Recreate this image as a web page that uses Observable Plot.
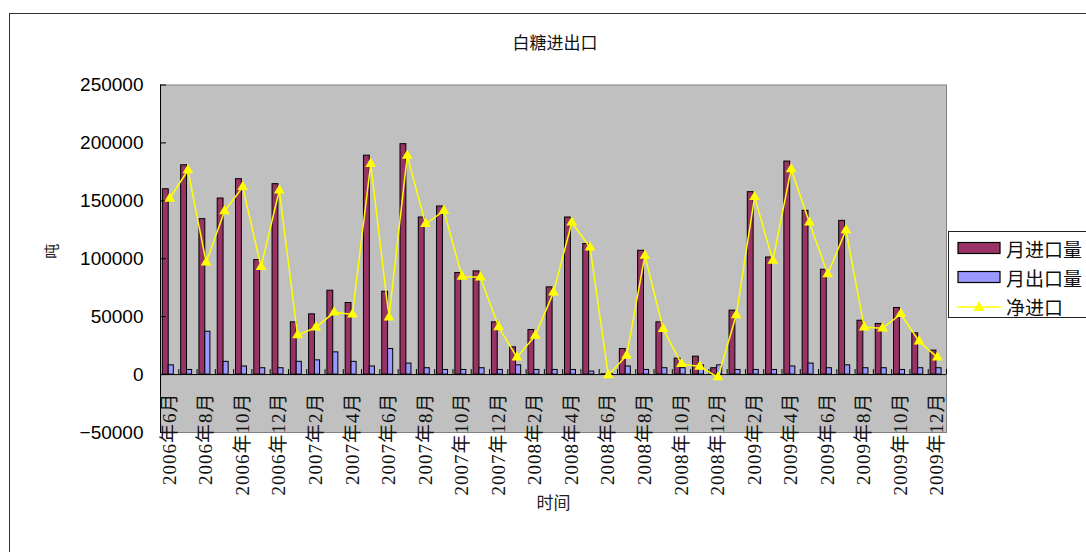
<!DOCTYPE html>
<html>
<head>
<meta charset="utf-8">
<script src="https://cdn.jsdelivr.net/npm/d3@7"></script>
<script src="https://cdn.jsdelivr.net/npm/@observablehq/plot@0.6"></script>
<style>
  body { margin: 0; background: #fff; }
  #wrap { position: relative; width: 1086px; height: 552px; overflow: hidden; font-family: "Noto Sans CJK SC", sans-serif; color: #111; }
  #border { position: absolute; left: 9px; top: 13px; width: 1300px; height: 800px; border: 1px solid #333; box-sizing: border-box; }
  #title { position: absolute; top: 30px; left: 0; width: 1110px; text-align: center; font-size: 17px; line-height: 24px; }
  #chart { position: absolute; left: 0; top: 60px; }
  #legend { position: absolute; left: 948px; top: 231px; width: 200px; height: 87px; border: 1px solid #222; background: #fff; box-sizing: border-box; }
  .lrow { position: absolute; left: 8px; height: 28px; display: flex; align-items: center; white-space: nowrap; font-size: 19px; }
  .lrow svg { margin-right: 5px; }
</style>
</head>
<body>
<div id="wrap">
  <div id="border"></div>
  <div id="title">白糖进出口</div>
  <div id="chart"></div>
  <div id="legend"></div>
</div>
<script>
const months = [
  "2006年6月","2006年7月","2006年8月","2006年9月","2006年10月","2006年11月","2006年12月",
  "2007年1月","2007年2月","2007年3月","2007年4月","2007年5月","2007年6月","2007年7月","2007年8月","2007年9月","2007年10月","2007年11月","2007年12月",
  "2008年1月","2008年2月","2008年3月","2008年4月","2008年5月","2008年6月","2008年7月","2008年8月","2008年9月","2008年10月","2008年11月","2008年12月",
  "2009年1月","2009年2月","2009年3月","2009年4月","2009年5月","2009年6月","2009年7月","2009年8月","2009年9月","2009年10月","2009年11月","2009年12月"
];
const imports = [160000, 180700, 134200, 152000, 168700, 98900, 164400, 45100, 52000, 72400, 61800, 189000, 71500, 198900, 135600, 145100, 87700, 89100, 45100, 23500, 38500, 75300, 135600, 112700, 300, 22100, 106900, 45100, 13800, 15500, 5500, 55200, 157500, 101100, 183900, 141400, 90500, 132700, 46500, 43700, 57500, 35600, 20700];
const exportsArr = [8000, 4000, 37000, 11000, 7000, 5500, 5500, 11000, 12300, 19200, 11000, 7000, 22100, 9500, 5500, 4000, 4000, 5500, 4000, 8000, 4000, 4000, 4000, 2600, 800, 7000, 4000, 5500, 5500, 8000, 8000, 4000, 4000, 4000, 7000, 9500, 5500, 8000, 5500, 5500, 4000, 5500, 5500];
const net = [152000, 176400, 96800, 141000, 162000, 93000, 159000, 34000, 40800, 53700, 52000, 182000, 49400, 189000, 130000, 141400, 84500, 84000, 41000, 14900, 33600, 71000, 131300, 109700, -500, 16400, 102600, 39400, 9200, 6900, -2300, 51400, 153400, 98300, 177300, 131300, 86800, 124700, 40800, 39900, 52300, 28700, 14900];
const yTicks = [-50000, 0, 50000, 100000, 150000, 200000, 250000];
const seriesNames = ["月进口量", "月出口量", "净进口"];
const colors = ["#993366", "#9999ff", "#ffff00"];

const table = months.map((m, i) => ({i, m, imp: imports[i], exp: exportsArr[i], net: net[i]}));
const boundaries = d3.range(0, months.length + 1);
const labelTicks = table.filter(d => d.i % 2 === 0).map(d => d.i + 0.5);

const chart = Plot.plot({
  width: 1086, height: 492,
  marginLeft: 160, marginRight: 140, marginTop: 24.5, marginBottom: 120,
  style: {fontFamily: "Liberation Sans, sans-serif", background: "transparent", color: "#000"},
  x: {domain: [0, months.length], axis: null},
  y: {domain: [-50000, 250000], axis: null},
  marks: [
    Plot.frame({fill: "#c0c0c0", stroke: "#808080"}),
    Plot.rectY(table, {x1: d => d.i + 0.13, x2: d => d.i + 0.45, y1: 0, y2: "imp", fill: colors[0], stroke: "#000", strokeWidth: 1}),
    Plot.rectY(table, {x1: d => d.i + 0.45, x2: d => d.i + 0.73, y1: 0, y2: "exp", fill: colors[1], stroke: "#000", strokeWidth: 1}),
    Plot.ruleY([0], {stroke: "#000"}),
    Plot.ruleX(boundaries, {y1: 0, y2: 0, insetTop: -5, stroke: "#000"}),
    Plot.ruleX([0], {stroke: "#000"}),
    Plot.ruleY(yTicks, {x1: 0, x2: 0, insetRight: -6, stroke: "#000"}),
    Plot.line(table, {x: d => d.i + 0.5, y: "net", stroke: colors[2], strokeWidth: 1.5}),
    Plot.dot(table, {x: d => d.i + 0.5, y: "net", symbol: "triangle", r: 4, fill: colors[2], stroke: "none"}),
    Plot.axisY({ticks: yTicks, tickSize: 0, tickPadding: 17, tickFormat: d3.format("d"), label: null, fontSize: 19}),
    Plot.axisX({ticks: labelTicks, tickFormat: v => months[Math.floor(v)], tickRotate: -90, tickSize: 0, tickPadding: 0, dy: -40, label: null, fontSize: 19}),
    Plot.text(["时间"], {text: d => d, frameAnchor: "bottom", dy: 76, fontSize: 17, fontFamily: "Noto Sans CJK SC", fill: "#222"}),
    Plot.text(["吨"], {text: d => d, frameAnchor: "left", dx: -108, rotate: -90, fontSize: 15, fontFamily: "Noto Sans CJK SC", fill: "#222"})
  ]
});
document.getElementById("chart").appendChild(chart);

d3.select(chart).selectAll('g[aria-label="y-axis tick label"] text')
  .style("font-size", "19px").style("font-family", "Liberation Sans, sans-serif");
d3.select(chart).selectAll('g[aria-label="x-axis tick label"] text')
  .style("font-size", "19px").style("font-family", "Liberation Serif, Noto Sans CJK SC, serif")
  .style("letter-spacing", "1px").attr("fill", "#111");

// legend
const legend = d3.select("#legend");
seriesNames.forEach((name, k) => {
  const row = legend.append("div").attr("class", "lrow").style("top", (2 + k * 29) + "px");
  const s = row.append("svg").attr("width", 44).attr("height", 16);
  if (k < 2) {
    s.append("rect").attr("x", 1).attr("y", 2.5).attr("width", 42).attr("height", 11)
      .attr("fill", colors[k]).attr("stroke", "#000").attr("stroke-width", 1.2);
  } else {
    s.append("line").attr("x1", 0).attr("x2", 44).attr("y1", 9).attr("y2", 9)
      .attr("stroke", colors[2]).attr("stroke-width", 1.5);
    s.append("path").attr("d", "M22,3 L27.5,13 L16.5,13 Z").attr("fill", colors[2]);
  }
  row.append("span").text(name);
});
</script>
</body>
</html>
